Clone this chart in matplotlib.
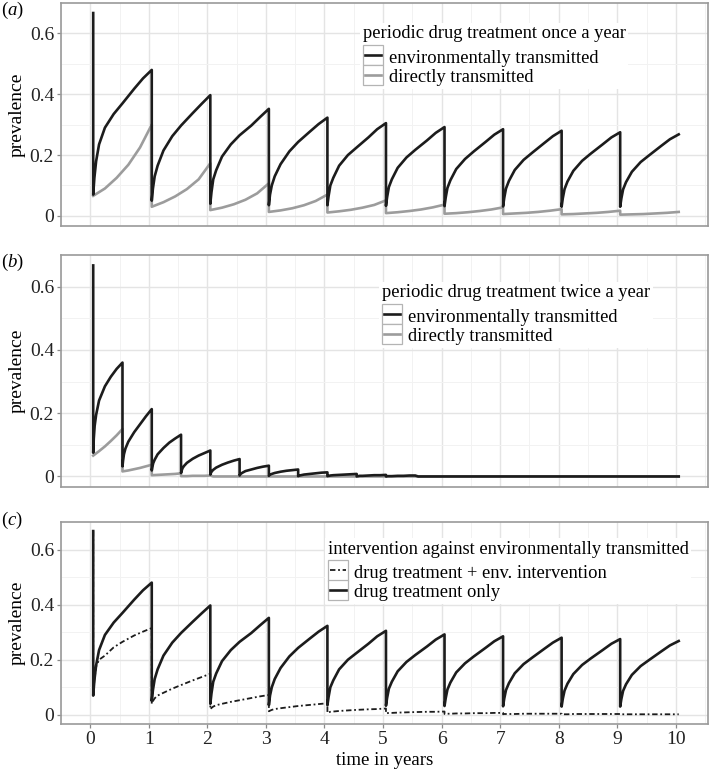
import matplotlib
matplotlib.use("Agg")
import matplotlib.pyplot as plt
from matplotlib.legend_handler import HandlerLine2D
from matplotlib.patches import Rectangle
import numpy as np

plt.rcParams['font.family'] = ['Liberation Serif', 'DejaVu Serif']
plt.rcParams['mathtext.fontset'] = 'custom'
plt.rcParams['mathtext.rm'] = 'Liberation Serif'
plt.rcParams['mathtext.it'] = 'Liberation Serif:italic'

# ---- data ----
start_value = 0.667          # prevalence before the first treatment
treat_once = [0.05, 1.05, 2.05, 3.05, 4.05, 5.05, 6.05, 7.05, 8.05, 9.05]
treat_twice = [0.05, 0.55, 1.05, 1.55, 2.05, 2.55, 3.05, 3.55, 4.05, 4.55, 5.05]
end_time = 10.05

# offsets (years after a treatment) at which the curves were read
env_offsets = [0, 0.02, 0.05, 0.1, 0.2, 0.35, 0.5, 0.7, 0.85, 1.0]
dir_offsets = [0, 0.2, 0.4, 0.6, 0.8, 1.0]
half_offsets = [0, 0.01, 0.025, 0.05, 0.1, 0.2, 0.3, 0.4, 0.5]
half_dir_offsets = [0, 0.1, 0.2, 0.3, 0.4, 0.5]

# (a) once a year, environmentally transmitted
env_once = [
    [0.07, 0.125, 0.18, 0.235, 0.29, 0.335, 0.37, 0.418, 0.452, 0.48],
    [0.05, 0.09, 0.13, 0.165, 0.215, 0.262, 0.297, 0.338, 0.368, 0.397],
    [0.04, 0.078, 0.12, 0.15, 0.195, 0.235, 0.265, 0.297, 0.325, 0.352],
    [0.035, 0.07, 0.1, 0.13, 0.17, 0.212, 0.243, 0.277, 0.302, 0.323],
    [0.035, 0.065, 0.1, 0.125, 0.165, 0.2, 0.225, 0.258, 0.285, 0.305],
    [0.033, 0.062, 0.095, 0.12, 0.158, 0.192, 0.217, 0.248, 0.273, 0.292],
    [0.032, 0.06, 0.092, 0.117, 0.154, 0.187, 0.212, 0.243, 0.267, 0.285],
    [0.031, 0.059, 0.09, 0.115, 0.151, 0.184, 0.208, 0.239, 0.262, 0.28],
    [0.03, 0.058, 0.088, 0.113, 0.148, 0.181, 0.205, 0.235, 0.258, 0.275],
    [0.03, 0.057, 0.087, 0.111, 0.145, 0.177, 0.2, 0.23, 0.252, 0.268],
]
# (a) once a year, directly transmitted
dir_once = [
    [0.066, 0.09, 0.125, 0.168, 0.225, 0.30],
    [0.03, 0.045, 0.064, 0.088, 0.12, 0.173],
    [0.019, 0.027, 0.038, 0.053, 0.074, 0.107],
    [0.013, 0.018, 0.025, 0.035, 0.049, 0.07],
    [0.011, 0.015, 0.02, 0.027, 0.036, 0.051],
    [0.009, 0.012, 0.016, 0.021, 0.028, 0.037],
    [0.007, 0.009, 0.012, 0.016, 0.021, 0.028],
    [0.006, 0.008, 0.01, 0.013, 0.017, 0.022],
    [0.005, 0.006, 0.008, 0.01, 0.013, 0.017],
    [0.004, 0.005, 0.006, 0.008, 0.01, 0.013],
]
# (b) twice a year, environmentally transmitted
env_twice = [
    [0.075, 0.12, 0.16, 0.195, 0.24, 0.285, 0.315, 0.34, 0.36],
    [0.032, 0.05, 0.07, 0.088, 0.11, 0.14, 0.165, 0.19, 0.213],
    [0.019, 0.03, 0.042, 0.053, 0.07, 0.09, 0.107, 0.12, 0.132],
    [0.011, 0.018, 0.026, 0.033, 0.043, 0.056, 0.066, 0.074, 0.082],
    [0.006, 0.011, 0.016, 0.021, 0.028, 0.037, 0.044, 0.05, 0.055],
    [0.003, 0.006, 0.009, 0.012, 0.017, 0.022, 0.027, 0.031, 0.034],
    [0.002, 0.004, 0.006, 0.008, 0.011, 0.015, 0.018, 0.02, 0.022],
    [0.001, 0.002, 0.003, 0.004, 0.006, 0.008, 0.01, 0.012, 0.013],
    [0.001, 0.002, 0.002, 0.003, 0.004, 0.005, 0.006, 0.007, 0.008],
    [0.0, 0.001, 0.001, 0.002, 0.002, 0.003, 0.004, 0.004, 0.005],
    [0.0, 0.0, 0.001, 0.001, 0.001, 0.002, 0.002, 0.003, 0.003],
]
# (b) twice a year, directly transmitted
dir_twice = [
    [0.066, 0.08, 0.095, 0.112, 0.13, 0.15],
    [0.016, 0.019, 0.023, 0.027, 0.032, 0.037],
    [0.004, 0.005, 0.006, 0.007, 0.008, 0.01],
    [0.001, 0.001, 0.002, 0.002, 0.002, 0.003],
]
# (c) drug treatment + env. intervention
env_interv = [
    [0.07, 0.125, 0.175, 0.2, 0.215, 0.245, 0.265, 0.288, 0.302, 0.315],
    [0.04, 0.05, 0.06, 0.07, 0.08, 0.095, 0.108, 0.125, 0.137, 0.149],
    [0.02, 0.025, 0.03, 0.035, 0.04, 0.047, 0.053, 0.061, 0.067, 0.072],
    [0.013, 0.015, 0.018, 0.021, 0.024, 0.028, 0.032, 0.036, 0.039, 0.042],
    [0.007, 0.009, 0.011, 0.012, 0.014, 0.016, 0.018, 0.02, 0.021, 0.023],
    [0.005, 0.006, 0.007, 0.007, 0.008, 0.009, 0.01, 0.011, 0.011, 0.012],
    [0.003, 0.004, 0.004, 0.004, 0.005, 0.005, 0.006, 0.006, 0.007, 0.007],
    [0.002, 0.003, 0.003, 0.003, 0.003, 0.004, 0.004, 0.004, 0.004, 0.004],
    [0.002, 0.002, 0.002, 0.002, 0.003, 0.003, 0.003, 0.003, 0.003, 0.003],
    [0.002, 0.002, 0.002, 0.002, 0.002, 0.002, 0.002, 0.002, 0.002, 0.002],
]

x_ticks = list(range(11))
y_ticks = [0, 0.2, 0.4, 0.6]
y_ticklabels = ['0', '0.2', '0.4', '0.6']


def build_series(treat_times, offsets, cycles, first=None):
    "Joins the per-cycle readings into one time / value series"
    t, v = [], []
    if first is not None:
        t.append(treat_times[0])
        v.append(first)
    for t0, vals in zip(treat_times, cycles):
        for dt, val in zip(offsets, vals):
            t.append(t0 + dt)
            v.append(val)
    return np.array(t), np.array(v)


class KeyBox(HandlerLine2D):
    "ggplot style legend key: line inside a thin grey box"
    def create_artists(self, legend, orig_handle, xdescent, ydescent,
                       width, height, fontsize, trans):
        arts = super().create_artists(legend, orig_handle, xdescent, ydescent,
                                      width, height, fontsize, trans)
        yc = arts[0].get_ydata()[0]
        bh = fontsize * 1.1
        box = Rectangle((-xdescent, yc - bh / 2), width, bh,
                        facecolor='white', edgecolor='#b4b4b4', lw=0.9,
                        transform=trans)
        x0 = -xdescent + 0.1 * width
        x1 = -xdescent + 0.9 * width
        arts[0].set_data([x0, x1], [yc, yc])
        return [box] + arts


def style_axes(ax, show_x):
    ax.set_xlim(-0.45, 10.55)
    ax.set_ylim(-0.0333, 0.70)
    ax.set_xticks(x_ticks)
    ax.set_xticks(np.arange(-0.5, 10.6, 1.0), minor=True)
    ax.set_yticks(y_ticks)
    ax.set_yticklabels(y_ticklabels)
    ax.set_yticks([0.1, 0.3, 0.5], minor=True)
    ax.grid(which='major', color='#e4e4e4', lw=1.0)
    ax.grid(which='minor', color='#f2f2f2', lw=0.7)
    ax.set_axisbelow(True)
    for s in ax.spines.values():
        s.set_color('#9a9a9a')
        s.set_linewidth(1.2)
    ax.tick_params(which='minor', length=0)
    ax.tick_params(which='major', length=3, color='#8a8a8a', width=0.9,
                   labelsize=14, labelcolor='#222222', pad=2)
    if show_x:
        ax.set_xlabel('time in years', fontsize=13.5, labelpad=3)
    else:
        ax.tick_params(axis='x', which='major', length=0, labelbottom=False)
    ax.set_ylabel('prevalence', fontsize=14, labelpad=3)


def add_legend(ax, title, anchor):
    leg = ax.legend(title=title, loc='upper left', bbox_to_anchor=anchor,
                    fontsize=13.3, title_fontsize=13.3, alignment='left',
                    handlelength=1.08, handleheight=1.0, handletextpad=0.35,
                    labelspacing=0.06, borderpad=0.15, borderaxespad=0,
                    facecolor='white', edgecolor='none', framealpha=1,
                    fancybox=False, handler_map={plt.Line2D: KeyBox()})
    leg._legend_box.sep = 4
    return leg


black = '#1c1c1c'
grey = '#9c9c9c'

fig = plt.figure(figsize=(7.11, 7.69), dpi=100)
W, H = 711.0, 769.0
ax_a = fig.add_axes([61 / W, 1 - 226 / H, 647 / W, 223 / H])
ax_b = fig.add_axes([61 / W, 1 - 487 / H, 647 / W, 232 / H])
ax_c = fig.add_axes([61 / W, 1 - 724 / H, 647 / W, 202 / H])

# (a)
t_e, v_e = build_series(treat_once + [end_time], env_offsets, env_once, start_value)
t_d, v_d = build_series(treat_once, dir_offsets, dir_once)
ax_a.plot(t_e, v_e, color=black, lw=1.9, label='environmentally transmitted', zorder=3)
ax_a.plot(t_d, v_d, color=grey, lw=1.9, label='directly transmitted', zorder=2)
style_axes(ax_a, False)
add_legend(ax_a, 'periodic drug treatment once a year', (0.462, 0.912))

# (b)
t_e2, v_e2 = build_series(treat_twice, half_offsets, env_twice, start_value)
t_e2 = np.append(t_e2, [5.6, end_time])
v_e2 = np.append(v_e2, [0.0, 0.0])
t_d2, v_d2 = build_series(treat_twice, half_dir_offsets, dir_twice)
t_d2 = np.append(t_d2, [2.1, end_time])
v_d2 = np.append(v_d2, [0.0, 0.0])
ax_b.plot(t_e2, v_e2, color=black, lw=1.9, label='environmentally transmitted', zorder=3)
ax_b.plot(t_d2, v_d2, color=grey, lw=1.9, label='directly transmitted', zorder=2)
style_axes(ax_b, False)
add_legend(ax_b, 'periodic drug treatment twice a year', (0.4915, 0.885))

# (c)
t_i, v_i = build_series(treat_once, env_offsets, env_interv, start_value)
ax_c.plot(t_i, v_i, color=black, lw=1.3, linestyle=(0, (3, 1.5, 1, 1.5)),
          label='drug treatment + env. intervention', zorder=4)
ax_c.plot(t_e, v_e, color=black, lw=1.9, label='drug treatment only', zorder=3)
style_axes(ax_c, True)
add_legend(ax_c, 'intervention against environmentally transmitted', (0.408, 0.922))

for lab, y in [('a', 10), ('b', 262), ('c', 520)]:
    fig.text(0.002, 1 - y / H, r'$(\mathit{' + lab + '})$', fontsize=13.5,
             va='center', ha='left')

fig.savefig('out.png', dpi=100)
